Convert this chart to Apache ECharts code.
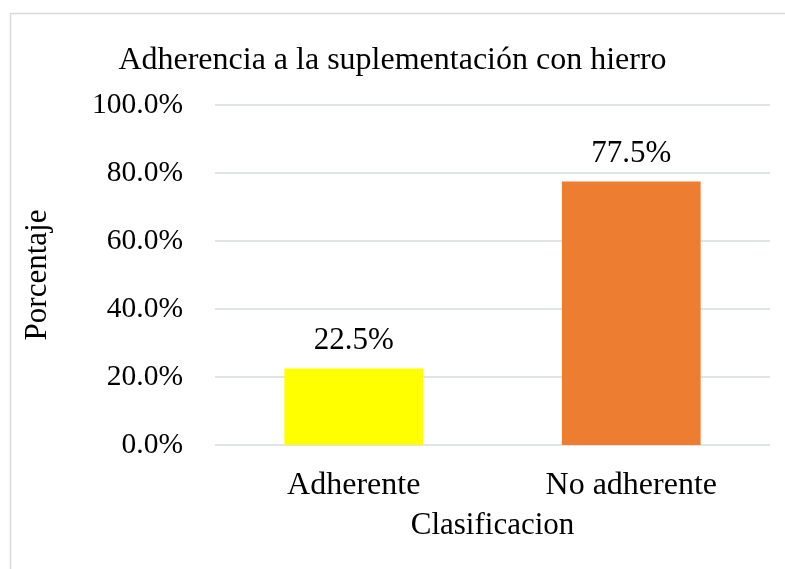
<!DOCTYPE html>
<html><head><meta charset="utf-8">
<script src="https://cdn.jsdelivr.net/npm/echarts@6/dist/echarts.min.js"></script>
<style>html,body{margin:0;padding:0;background:#fff}#c{width:785px;height:569px}</style>
</head><body><div id="c"></div>
<script>
const categories = ["Adherente", "No adherente"];
const values = [22.5, 77.5];
const barColors = ["#FFFF00", "#ED7D31"];
const yTicks = [0, 20, 40, 60, 80, 100];
const F = "'Liberation Serif', 'Times New Roman', serif";
const chart = echarts.init(document.getElementById('c'));
chart.setOption({
  animation: false,
  backgroundColor: '#fff',
  graphic: [{type:'rect', shape:{x:10.5,y:13.5,width:800,height:600}, style:{fill:'none', stroke:'#d9d9d9', lineWidth:1.5}}],
  title: {text: 'Adherencia a la suplementación con hierro', left: 'center', top: 40,
    textStyle:{fontFamily:F, fontSize:32, fontWeight:'normal', color:'#000'}},
  grid: {left: 215, right: 15, top: 105, bottom: 124},
  xAxis: {type:'category', data: categories,
    axisLine:{show:false}, axisTick:{show:false},
    axisLabel:{fontFamily:F, fontSize:32, color:'#000', margin:25},
    name:'Clasificacion', nameLocation:'middle', nameGap:65,
    nameTextStyle:{fontFamily:F, fontSize:31, color:'#000'}},
  yAxis: {type:'value', min:0, max:100, interval:20,
    axisLabel:{fontFamily:F, fontSize:29.5, color:'#000', margin:32, formatter: v => v.toFixed(1) + '%'},
    splitLine:{lineStyle:{color:'#e0e3e8', width:2}},
    name:'Porcentaje', nameLocation:'middle', nameGap:162,
    nameTextStyle:{fontFamily:F, fontSize:31, color:'#000'}},
  series: [{type:'bar', barWidth:'50%',
    data: values.map((v,i)=>({value:v, itemStyle:{color:barColors[i]}})),
    label:{show:true, position:'top', distance:12, fontFamily:F, fontSize:31, color:'#000',
      formatter: p => p.value.toFixed(1) + '%'}}]
});
</script></body></html>
